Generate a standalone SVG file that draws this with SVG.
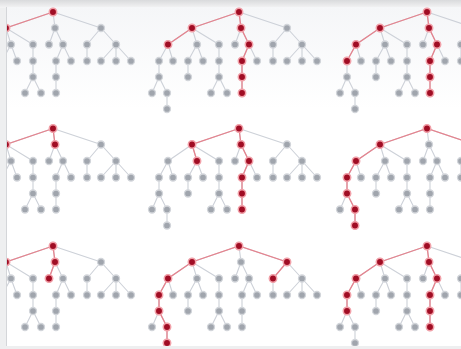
<svg xmlns="http://www.w3.org/2000/svg" xmlns:xlink="http://www.w3.org/1999/xlink" width="461" height="349" viewBox="0 0 461 349">
<style>
.e{fill:none;stroke:#cdd1d8;stroke-width:1.1}
.re{fill:none;stroke:#e6828d;stroke-width:1.3}
.gn{fill:#a0a5ad;stroke:#d2d5da;stroke-width:1.3}
.rn{fill:#a00d24;stroke:#f2a0a8;stroke-width:1.5}
</style>
<defs>
<linearGradient id="topband" x1="0" y1="0" x2="0" y2="1">
<stop offset="0" stop-color="#d9dadc"/>
<stop offset="1" stop-color="#f4f4f5"/>
</linearGradient>
<linearGradient id="panel" x1="0" y1="0" x2="0" y2="1">
<stop offset="0" stop-color="#f5f6f8"/>
<stop offset="0.3" stop-color="#ffffff"/>
<stop offset="1" stop-color="#ffffff"/>
</linearGradient>
<clipPath id="clip"><rect x="7" y="7" width="454" height="339"/></clipPath>
<circle id="g" r="3.5" class="gn"/>
<circle id="r" r="3.7" class="rn"/>
<g id="base-tree">
<g class="connectors">
<path class="e" d="M0,0L-47,16M0,0L2,16M0,0L48,16M-47,16L-71,32.5M-47,16L-42,32.5M-47,16L-20,32.5M2,16L-4,32.5M2,16L10,32.5M48,16L34,32.5M48,16L63,32.5M-71,32.5L-80,49M-71,32.5L-66,49M-42,32.5L-51,49M-42,32.5L-36,49M-20,32.5L-20,49M10,32.5L3,49M10,32.5L18,49M34,32.5L34,49M63,32.5L48,49M63,32.5L63,49M63,32.5L78,49M-80,49L-80,65M-51,49L-51,65M-20,49L-20,65M3,49L3,65M-80,65L-87,81M-80,65L-72,81M-20,65L-28,81M-20,65L-12,81M3,65L3,81M-72,81L-72,97"/>
</g>
<g class="nodes">
<use href="#g" x="0" y="0"/>
<use href="#g" x="-47" y="16"/><use href="#g" x="2" y="16"/><use href="#g" x="48" y="16"/>
<use href="#g" x="-71" y="32.5"/><use href="#g" x="-42" y="32.5"/><use href="#g" x="-20" y="32.5"/><use href="#g" x="-4" y="32.5"/><use href="#g" x="10" y="32.5"/><use href="#g" x="34" y="32.5"/><use href="#g" x="63" y="32.5"/>
<use href="#g" x="-80" y="49"/><use href="#g" x="-66" y="49"/><use href="#g" x="-51" y="49"/><use href="#g" x="-36" y="49"/><use href="#g" x="-20" y="49"/><use href="#g" x="3" y="49"/><use href="#g" x="18" y="49"/><use href="#g" x="34" y="49"/><use href="#g" x="48" y="49"/><use href="#g" x="63" y="49"/><use href="#g" x="78" y="49"/>
<use href="#g" x="-80" y="65"/><use href="#g" x="-51" y="65"/><use href="#g" x="-20" y="65"/><use href="#g" x="3" y="65"/>
<use href="#g" x="-87" y="81"/><use href="#g" x="-72" y="81"/><use href="#g" x="-28" y="81"/><use href="#g" x="-12" y="81"/><use href="#g" x="3" y="81"/>
<use href="#g" x="-72" y="97"/>
</g>
</g>
</defs>
<rect width="461" height="349" fill="#eeeff0"/>
<rect x="0" y="0" width="461" height="8" fill="url(#topband)"/>
<rect x="7" y="7" width="454" height="339" fill="url(#panel)"/>
<line x1="6.5" y1="7" x2="6.5" y2="346" stroke="#d4d6d9" stroke-width="1"/>
<g clip-path="url(#clip)">
<g id="tree-r1c1" transform="translate(53,12)">
<use href="#base-tree"/>
<path class="re" d="M0,0L-47,16"/>
<use href="#r" x="0" y="0"/><use href="#r" x="-47" y="16"/>
</g>
<g id="tree-r1c2" transform="translate(239,12)">
<use href="#base-tree"/>
<path class="re" d="M-71,32.5L-47,16L0,0L2,16L10,32.5L3,49L3,81"/>
<use href="#r" x="0" y="0"/><use href="#r" x="-47" y="16"/><use href="#r" x="-71" y="32.5"/><use href="#r" x="2" y="16"/><use href="#r" x="10" y="32.5"/><use href="#r" x="3" y="49"/><use href="#r" x="3" y="65"/><use href="#r" x="3" y="81"/>
</g>
<g id="tree-r1c3" transform="translate(427,12)">
<use href="#base-tree"/>
<path class="re" d="M-80,49L-71,32.5L-47,16L0,0L2,16L10,32.5L3,49L3,81"/>
<use href="#r" x="0" y="0"/><use href="#r" x="-47" y="16"/><use href="#r" x="-71" y="32.5"/><use href="#r" x="-80" y="49"/><use href="#r" x="2" y="16"/><use href="#r" x="10" y="32.5"/><use href="#r" x="3" y="49"/><use href="#r" x="3" y="65"/><use href="#r" x="3" y="81"/>
</g>
<g id="tree-r2c1" transform="translate(53,128.5)">
<use href="#base-tree"/>
<path class="re" d="M-47,16L0,0L2,16"/>
<use href="#r" x="0" y="0"/><use href="#r" x="-47" y="16"/><use href="#r" x="2" y="16"/>
</g>
<g id="tree-r2c2" transform="translate(239,128.5)">
<use href="#base-tree"/>
<path class="re" d="M-42,32.5L-47,16L0,0L2,16L10,32.5L3,49L3,81"/>
<use href="#r" x="0" y="0"/><use href="#r" x="-47" y="16"/><use href="#r" x="-42" y="32.5"/><use href="#r" x="2" y="16"/><use href="#r" x="10" y="32.5"/><use href="#r" x="3" y="49"/><use href="#r" x="3" y="65"/><use href="#r" x="3" y="81"/>
</g>
<g id="tree-r2c3" transform="translate(427,128.5)">
<use href="#base-tree"/>
<path class="re" d="M-72,97L-72,81L-80,65L-80,49L-71,32.5L-47,16L0,0L48,16"/>
<use href="#r" x="0" y="0"/><use href="#r" x="-47" y="16"/><use href="#r" x="-71" y="32.5"/><use href="#r" x="-80" y="49"/><use href="#r" x="-80" y="65"/><use href="#r" x="-72" y="81"/><use href="#r" x="-72" y="97"/><use href="#r" x="48" y="16"/>
</g>
<g id="tree-r3c1" transform="translate(53,246)">
<use href="#base-tree"/>
<path class="re" d="M-47,16L0,0L2,16L-4,32.5"/>
<use href="#r" x="0" y="0"/><use href="#r" x="-47" y="16"/><use href="#r" x="2" y="16"/><use href="#r" x="-4" y="32.5"/>
</g>
<g id="tree-r3c2" transform="translate(239,246)">
<use href="#base-tree"/>
<path class="re" d="M-72,97L-72,81L-80,65L-80,49L-71,32.5L-47,16L0,0L48,16L34,32.5"/>
<use href="#r" x="0" y="0"/><use href="#r" x="-47" y="16"/><use href="#r" x="-71" y="32.5"/><use href="#r" x="-80" y="49"/><use href="#r" x="-80" y="65"/><use href="#r" x="-72" y="81"/><use href="#r" x="-72" y="97"/><use href="#r" x="48" y="16"/><use href="#r" x="34" y="32.5"/>
</g>
<g id="tree-r3c3" transform="translate(427,246)">
<use href="#base-tree"/>
<path class="re" d="M-80,65L-80,49L-71,32.5L-47,16L0,0L2,16L10,32.5L3,49L3,81"/>
<use href="#r" x="0" y="0"/><use href="#r" x="-47" y="16"/><use href="#r" x="-71" y="32.5"/><use href="#r" x="-80" y="49"/><use href="#r" x="-80" y="65"/><use href="#r" x="2" y="16"/><use href="#r" x="10" y="32.5"/><use href="#r" x="3" y="49"/><use href="#r" x="3" y="65"/><use href="#r" x="3" y="81"/>
</g>
</g>
</svg>
